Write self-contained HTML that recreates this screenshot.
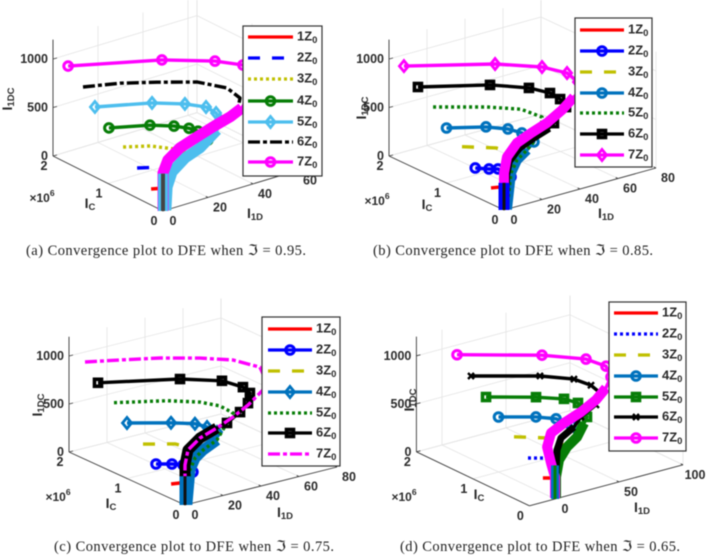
<!DOCTYPE html>
<html lang="en">
<head>
<meta charset="utf-8">
<title>Convergence plots to DFE</title>
<style>
html,body{margin:0;padding:0;background:#fff;}
svg{display:block;filter:blur(.45px);}
text{font-family:"Liberation Sans","DejaVu Sans",sans-serif;}
.cap{font-family:"Liberation Serif","DejaVu Serif",serif;font-size:14.5px;fill:#222;}
</style>
</head>
<body>
<svg id="figure" xmlns="http://www.w3.org/2000/svg" width="708" height="556" viewBox="0 0 708 556">
  <rect width="708" height="556" fill="#fff"/>
  <g id="plots"></g>
  <text class="cap" x="26" y="255" textLength="280" lengthAdjust="spacing">(a) Convergence plot to DFE when ℑ = 0.95.</text>
  <text class="cap" x="373" y="255" textLength="280" lengthAdjust="spacing">(b) Convergence plot to DFE when ℑ = 0.85.</text>
  <text class="cap" x="54" y="551" textLength="280" lengthAdjust="spacing">(c) Convergence plot to DFE when ℑ = 0.75.</text>
  <text class="cap" x="400" y="551" textLength="280" lengthAdjust="spacing">(d) Convergence plot to DFE when ℑ = 0.65.</text>
</svg>
<script>
// Tick labels and legend labels
const icTicks = [0, 1, 2];
const zTicks = [0, 500, 1000];
const aITicks = [0, 20, 40, 60];
const bITicks = [0, 20, 40, 60, 80];
const cITicks = [0, 20, 40, 60, 80];
const dITicks = [0, 50, 100];
const legendLabels = ['1Z', '2Z', '3Z', '4Z', '5Z', '6Z', '7Z'];

// Each point is [I_C (x10^6), I_1D, I_1DC]
// Panel (a)
const aUpper = [[0,35,817],[0,30,763],[0,22,711],[0,15,658],[0,7.5,598],[0,2.2,510],[0,0,392],[0,0,186],[0,0,0]];
const aLower = [[0,24,667],[0,16.4,535],[0,9.8,478],[0,4,374],[0,1.8,235],[0,1.3,0]];
const a1 = [[0.25,0.8,150],[0.1,3.3,186]];
const a2 = [[0.5,0.7,297],[0.3,8.2,312],[0.1,8.7,313]];
const a3 = [[0.75,0.6,443],[0.55,7.7,460],[0.35,13.9,442],[0.15,15.7,435]];
const a4 = [[1,0.4,570],[0.7,11.3,607],[0.5,17.1,614],[0.35,20.1,613],[0.25,21.7,601],[0.1,22.4,547]];
const a5 = [[1.25,0.3,716],[0.85,15.9,762],[0.6,24.4,763],[0.4,28.9,757],[0.25,29.7,732],[0.1,27.8,715]];
const a6 = [[1.5,1.1,845],[1.2,10.2,906],[0.9,19.3,938],[0.6,29.8,952],[0.35,37,910],[0.15,37.9,858],[0.05,34.6,805]];
const a7 = [[1.75,0.6,994],[1.1,26.4,1061],[0.7,40.2,1066],[0.4,45.3,1075],[0.2,44.4,983],[0.1,40.7,861]];
const aStem = [0, 385];

// Panel (b)
const bUpper = [[0,36.8,966],[0,30.5,866],[0,22.6,775],[0,14.2,716],[0,6.8,654],[0,1.6,538],[0,0,381],[0,0,206],[0,0,0]];
const bMid = [[0,23.7,717],[0,15.3,660],[0,7.9,597],[0,2.6,491],[0,1.1,355],[0,0.5,0]];
const bLower = [[0,19.5,689],[0,12.1,553],[0,6.8,478],[0,3.7,362],[0,1.6,0]];
const b1 = [[0.25,0.7,154],[0.1,1.4,203]];
const b2 = [[0.5,0,294],[0.35,2.7,311],[0.25,4.4,330],[0.05,5.2,300]];
const b3 = [[0.75,0.6,441],[0.45,9.4,464],[0.2,9.7,479]];
const b4 = [[1,0,567],[0.7,11.7,599],[0.5,17.2,603],[0.35,20,589],[0.15,20.3,550]];
const b5 = [[1.25,0.5,711],[0.85,16.8,734],[0.55,25.6,748],[0.25,27.6,739]];
const b6 = [[1.5,0.1,850],[1,22.9,887],[0.65,32.8,900],[0.4,36.3,898],[0.25,37.1,873],[0.12,36.3,831],[0.03,27.2,740]];
const b7 = [[1.75,0.3,995],[1.1,28.6,1044],[0.7,41.2,1056],[0.45,46.8,1034],[0.25,46.5,998],[0.12,44.2,965]];
const bStem = [0, 280];

// Panel (c)
const cUpper = [[0,33.2,877],[0,25.3,792],[0,16.8,719],[0,7.9,659],[0,1.6,565],[0,0,417],[0,0,208],[0,0,0]];
const cLower = [[0,16.8,594],[0,9.5,526],[0,5.3,464],[0,2.6,352],[0,1,0]];
const c1 = [[0.25,0.3,148],[0.1,0.4,200]];
const c2 = [[0.5,0,289],[0.3,2.3,333],[0.2,5.1,337],[0.05,5.7,302]];
const c3 = [[0.75,0.8,423],[0.45,8.5,470],[0.2,7.2,514]];
const c4 = [[1,0,578],[0.7,14,594],[0.5,20.5,607],[0.35,22.3,606],[0.15,21.4,613]];
const c5 = [[1.25,0.8,717],[0.85,16.5,770],[0.6,26.2,777],[0.4,30.6,770],[0.15,29.8,770]];
const c6 = [[1.5,0,859],[1,27.9,898],[0.65,39.3,920],[0.4,42.7,906],[0.25,41.8,891],[0.12,36.8,846],[0.05,30.5,803],[0,22.1,745]];
const c7 = [[1.75,0.8,1003],[1.4,10.1,1076],[1.1,20.4,1127],[0.8,32.3,1150],[0.55,42.1,1150],[0.3,48.6,1112],[0.12,47.4,985]];
const cStem = [0, 300];

// Panel (d)
const dUpper = [[0,39.8,1015],[0,32,918],[0,20.3,834],[0,7,767],[0,-3.1,699],[0,-6.2,564],[0,-3.1,386],[0,0,229],[0,0,10]];
const dMid = [[0,14.8,697],[0,4.7,619],[0,1.6,505],[0,0.8,299],[0,0.8,7]];
const dLower = [[0,22.7,711],[0,17.2,584],[0,9.4,508],[0,3.1,395],[0,0.8,226],[0,0.8,7]];
const d1 = [[0.25,1.6,143],[0.1,1.3,186]];
const d2 = [[0.5,1,283],[0.2,5.7,350]];
const d3 = [[0.75,1.1,433],[0.4,10.6,486],[0.2,8,532]];
const d4 = [[1,0,573],[0.7,16,601],[0.5,22.9,613],[0.2,21.3,637]];
const d5 = [[1.25,1.3,706],[0.85,22.7,741],[0.6,33.5,755],[0.4,35.6,761],[0.1,29.4,722]];
const d6 = [[1.5,0.6,857],[1,32.4,885],[0.65,43.5,911],[0.4,45.8,909],[0.2,43.2,905],[0.05,34.2,844],[0,20.3,782]];
const d7 = [[1.75,0.7,1008],[1.1,38.4,1052],[0.7,55.1,1064],[0.4,57.5,1066],[0.2,52.6,1027]];
const dStem = [0, 350];

const RED = '#ff0000', BLUE = '#0000ff', OLIVE = '#c0c000', GREEN = '#077d07',
      SKY = '#4dbeee', MBLUE = '#0072bd', BLACK = '#000000', MAG = '#ff00ff';
const DASH = '12 12', DOT = '3 3', DASHDOT = '12 3 4 3';

const panels = [
  { id:'a', ox:163, oy:211, ax:-55, ay:-27.5, bx:2.25, by:-0.678, cz:0.097, iMin:0, iMax:64, iTicks:aITicks,
    sci:[42,198], icLab:[90,203], iLab:[255,213], zLab:[7,99], lg:{x:243,y:26,w:79,h:150,ys:[37,58,79,101,122,142,162],lx:248,lw:45,tx:297},
    stem:{data:aStem,outer:SKY,ow:10,inner:'#444',iw:4},
    series:[
      {d:a1,c:RED,tail:aLower,from:4},
      {d:a2,c:BLUE,dash:DASH,tail:aLower,from:3},
      {d:a3,c:OLIVE,dash:DOT,tail:aLower,from:2},
      {d:a4,c:GREEN,m:'circle',tail:aLower,from:1,band:10},
      {d:a5,c:SKY,m:'diamond',tail:aLower,from:0,band:11},
      {d:a6,c:BLACK,dash:DASHDOT,tail:aUpper,from:1},
      {d:a7,c:MAG,m:'circle',tail:aUpper,from:0,band:11}
    ]},
  { id:'b', ox:504, oy:210, ax:-57.5, ay:-27, bx:1.9, by:-0.525, cz:0.097, iMin:0, iMax:80, iTicks:bITicks,
    sci:[377,201], icLab:[427,204], iLab:[606,213], zLab:[361,108], lg:{x:575,y:18,w:77,h:149,ys:[30,51,72,93,113,134,155],lx:580,lw:44,tx:628},
    stem:{data:bStem,outer:BLUE,ow:11,inner:'#111',iw:3},
    series:[
      {d:b1,c:RED,tail:bLower,from:3},
      {d:b2,c:BLUE,m:'circle',tail:bLower,from:3,band:9},
      {d:b3,c:OLIVE,dash:DASH,tail:bLower,from:2},
      {d:b4,c:MBLUE,m:'circle',tail:bLower,from:1,band:10},
      {d:b5,c:GREEN,dash:DOT,tail:bLower,from:0},
      {d:b6,c:BLACK,m:'square',tail:bMid,from:0,band:8},
      {d:b7,c:MAG,m:'diamond',tail:bUpper,from:0,band:10}
    ]},
  { id:'c', ox:185, oy:505, ax:-58, ay:-26.5, bx:1.9, by:-0.475, cz:0.096, iMin:0, iMax:80, iTicks:cITicks,
    sci:[58,497], icLab:[111,503], iLab:[285,512], zLab:[37,405], lg:{x:262,y:317,w:78,h:149,ys:[329,350,371,392,413,433,454],lx:268,lw:44,tx:316},
    stem:{data:cStem,outer:MBLUE,ow:11,inner:'#111',iw:3},
    series:[
      {d:c1,c:RED,tail:cLower,from:3},
      {d:c2,c:BLUE,m:'circle',tail:cLower,from:3,band:10},
      {d:c3,c:OLIVE,dash:DASH,tail:cLower,from:1},
      {d:c4,c:MBLUE,m:'diamond',tail:cLower,from:0,band:11},
      {d:c5,c:GREEN,dash:DOT,tail:cLower,from:0},
      {d:c6,c:BLACK,m:'square',tail:cUpper,from:2,band:11},
      {d:c7,c:MAG,dash:DASHDOT,tail:cUpper,from:0}
    ]},
  { id:'d', ox:555, oy:499, ax:-56.5, ay:-27, bx:1.28, by:-0.342, cz:0.096, iMin:-20, iMax:100, iTicks:dITicks,
    sci:[404,497], icLab:[479,494], iLab:[642,507], zLab:[409,400], lg:{x:609,y:302,w:77,h:149,ys:[313,334,355,376,397,417,438],lx:614,lw:44,tx:662},
    stem:{data:dStem,outer:MBLUE,ow:8,inner:GREEN,iw:3},
    series:[
      {d:d1,c:RED,tail:dLower,from:4},
      {d:d2,c:BLUE,dash:DOT,tail:dLower,from:3},
      {d:d3,c:OLIVE,dash:DASH,tail:dLower,from:2},
      {d:d4,c:MBLUE,m:'circle',tail:dLower,from:1,band:9},
      {d:d5,c:GREEN,m:'square',tail:dLower,from:0,band:10},
      {d:d6,c:BLACK,m:'x',tail:dMid,from:0,band:7},
      {d:d7,c:MAG,m:'circle',tail:dUpper,from:0,band:10}
    ]}
];

const NS = 'http://www.w3.org/2000/svg';
const root = document.getElementById('plots');

function el(tag, attrs, parent) {
  const e = document.createElementNS(NS, tag);
  for (const k in attrs) e.setAttribute(k, attrs[k]);
  parent.appendChild(e);
  return e;
}
function axes(p) {
  return function (ic, i, z) {
    return [p.ox + p.ax * ic + p.bx * i, p.oy + p.ay * ic + p.by * i - p.cz * z];
  };
}
function seg(parent, a, b, stroke, w, name) {
  const l = el('line', {x1:a[0], y1:a[1], x2:b[0], y2:b[1], stroke:stroke, 'stroke-width':w}, parent);
  
  
  return l;
}
function poly(parent, pts, stroke, w, dash, name) {
  const a = {points:pts.map(q => q[0].toFixed(1) + ',' + q[1].toFixed(1)).join(' '), fill:'none', stroke:stroke,
             'stroke-width':w, 'stroke-linejoin':'round'};
  if (dash) a['stroke-dasharray'] = dash;
  const l = el('polyline', a, parent);
  
  
  return l;
}
function marker(parent, kind, q, c) {
  const x = q[0], y = q[1];
  let m;
  if (kind === 'circle') {
    m = el('circle', {cx:x, cy:y, r:4.3, fill:'none', stroke:c, 'stroke-width':3}, parent);
  } else if (kind === 'square') {
    m = el('rect', {x:x-3.5, y:y-3.5, width:7, height:7, fill:'none', stroke:c, 'stroke-width':3.6}, parent);
  } else if (kind === 'diamond') {
    m = el('polygon', {points:[x,y-5.5,x+4.5,y,x,y+5.5,x-4.5,y].join(','), fill:'none', stroke:c, 'stroke-width':2.8}, parent);
  } else {
    m = el('path', {d:'M'+(x-3)+' '+(y-3)+'L'+(x+3)+' '+(y+3)+'M'+(x-3)+' '+(y+3)+'L'+(x+3)+' '+(y-3), fill:'none', stroke:c, 'stroke-width':2.4}, parent);
  }
  
  
}
function label(parent, x, y, str, anchor, name, sub, size) {
  const t = el('text', {x:x, y:y, 'text-anchor':anchor, 'font-size':size || 12.5, 'font-weight':'bold', fill:'#2b2b2b', 'dominant-baseline':'central'}, parent);
  
  
  t.appendChild(document.createTextNode(str));
  if (sub) {
    const s = el('tspan', {dy:4, 'font-size':9.5}, t);
    s.textContent = sub;
  }
  return t;
}

panels.forEach(function (p) {
  const P = axes(p);
  const g = el('g', {}, root);
  
  

  const grid = '#e4e4e4', zTop = 1200, icMax = 2;
  const gridG = el('g', {}, g);
  
  

  // floor and back-wall grid
  icTicks.forEach(function (t) {
    seg(gridG, P(t, p.iMin, 0), P(t, p.iMax, 0), grid, 0.8, 'floor-gridline');
    seg(gridG, P(t, p.iMax, 0), P(t, p.iMax, zTop), grid, 0.8, 'wall-gridline');
  });
  p.iTicks.forEach(function (t) {
    seg(gridG, P(0, t, 0), P(icMax, t, 0), grid, 0.8, 'floor-gridline');
    seg(gridG, P(icMax, t, 0), P(icMax, t, zTop), grid, 0.8, 'wall-gridline');
  });
  seg(gridG, P(icMax, p.iMax, 0), P(icMax, p.iMax, zTop), grid, 0.8, 'wall-corner');
  seg(gridG, P(icMax, p.iMax, 0), P(0, p.iMax, 0), grid, 0.8, 'floor-edge');
  seg(gridG, P(icMax, p.iMin, 0), P(icMax, p.iMax, 0), grid, 0.8, 'floor-edge');
  zTicks.forEach(function (t) {
    seg(gridG, P(icMax, p.iMin, t), P(icMax, p.iMax, t), grid, 0.8, 'wall-gridline');
    seg(gridG, P(icMax, p.iMax, t), P(0, p.iMax, t), grid, 0.8, 'wall-gridline');
  });

  // axes
  const axisC = '#3a3a3a';
  seg(g, P(0, p.iMin, 0), P(icMax, p.iMin, 0), axisC, 0.9, 'ic-axis');
  seg(g, P(0, p.iMin, 0), P(0, p.iMax, 0), axisC, 0.9, 'i1d-axis');
  seg(g, P(icMax, p.iMin, 0), P(icMax, p.iMin, zTop), axisC, 0.9, 'i1dc-axis');

  // tick labels
  zTicks.forEach(function (t) {
    const q = P(icMax, p.iMin, t);
    seg(g, q, [q[0] + 4, q[1] - 1], axisC, 0.9, 'i1dc-tick');
    label(g, q[0] - 5, q[1], String(t), 'end', 'i1dc-tick-label');
  });
  icTicks.forEach(function (t) {
    const q = P(t, p.iMin, 0);
    label(g, q[0] - 9, q[1] + 10, String(t), 'middle', 'ic-tick-label');
  });
  p.iTicks.forEach(function (t) {
    const q = P(0, t, 0);
    seg(g, q, [q[0] + p.ax * 0.04, q[1] + p.ay * 0.04], axisC, 0.9, 'i1d-tick');
    label(g, q[0] + (t === 0 ? 10 : 12), q[1] + 10, String(t), 'middle', 'i1d-tick-label');
  });

  // axis titles
  label(g, p.icLab[0], p.icLab[1], 'I', 'middle', 'ic-axis-title', 'C', 14);
  label(g, p.iLab[0], p.iLab[1], 'I', 'middle', 'i1d-axis-title', '1D', 14);
  const zt = label(g, 0, 0, 'I', 'middle', 'i1dc-axis-title', '1DC', 14);
  zt.setAttribute('transform', 'translate(' + p.zLab[0] + ',' + p.zLab[1] + ') rotate(-90)');
  const sci = label(g, p.sci[0], p.sci[1], '×10', 'middle', 'ic-scale-factor', null, 12);
  const sup = el('tspan', {dy:-5, 'font-size':8.5}, sci);
  sup.textContent = '6';

  // series
  p.series.forEach(function (s, idx) {
    const sg = el('g', {}, g);
    
    
    const head = s.d.map(v => P(v[0], v[1], v[2]));
    const tail = s.tail.slice(s.from).map(v => P(v[0], v[1], v[2]));
    if (s.band) poly(sg, tail, s.c, s.band, null, 'series-band');
    poly(sg, head.concat(tail), s.c, 3.4, s.dash, 'series-line');
    if (s.m) head.forEach(q => marker(sg, s.m, q, s.c));
  });

  // dense base of the trajectories
  const st = p.stem;
  seg(g, P(0, 0, st.data[0]), P(0, 0, st.data[1]), st.outer, st.ow, 'trajectory-base');
  seg(g, P(0, 0, st.data[0]), P(0, 0, st.data[1]), st.inner, st.iw, 'trajectory-base-core');

  // legend
  const L = p.lg;
  const lg = el('g', {}, g);
  
  
  const box = el('rect', {x:L.x, y:L.y, width:L.w, height:L.h, fill:'#fff', stroke:'#333', 'stroke-width':1.2}, lg);
  
  
  p.series.forEach(function (s, idx) {
    const y = L.ys[idx];
    const le = el('g', {}, lg);
    
    
    const ln = seg(le, [L.lx, y], [L.lx + L.lw, y], s.c, 3.2, 'legend-swatch');
    if (s.dash) ln.setAttribute('stroke-dasharray', s.dash);
    if (s.m) marker(le, s.m, [L.lx + L.lw / 2, y], s.c);
    label(le, L.tx, y - 1, legendLabels[idx], 'start', 'legend-label', '0', 13);
  });
});
</script>
</body>
</html>
